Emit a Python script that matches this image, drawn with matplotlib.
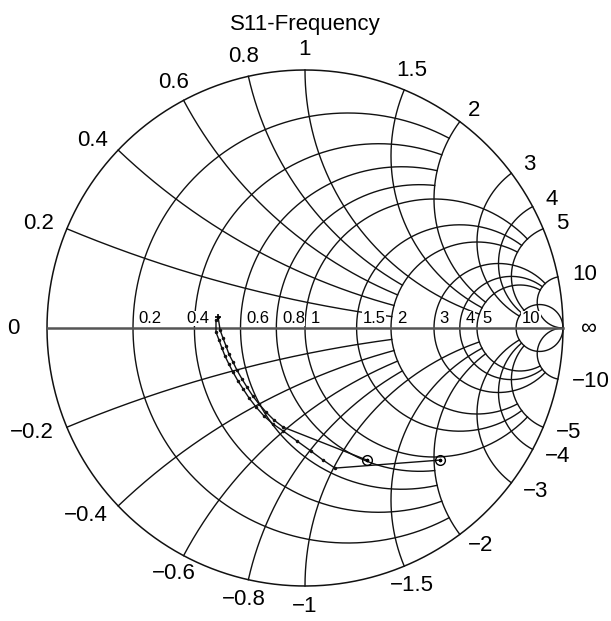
import numpy as np
import matplotlib.pyplot as plt

plt.rcParams['font.family'] = ['Liberation Sans', 'DejaVu Sans']

# grid circles: value and endpoint (like a 2-row "Values" matrix)
grid_vals = [0.2, 0.4, 0.6, 0.8, 1, 1.5, 2, 3, 4, 5, 10]
grid_ends = [2, 2, 2, 2, 5, 5, 5, 10, 10, 10, np.inf]

# S11 traces, reflection coefficient (real, imag)
s11a_re = [-0.337, -0.329, -0.318, -0.306, -0.295, -0.279, -0.264, -0.244,
           -0.225, -0.202, -0.178, -0.151, -0.120, -0.085, 0.240]
s11a_im = [0.043, -0.008, -0.039, -0.070, -0.101, -0.132, -0.163, -0.198,
           -0.229, -0.264, -0.295, -0.326, -0.357, -0.384, -0.512]
s11b_re = [-0.345, -0.345, -0.333, -0.322, -0.310, -0.295, -0.279, -0.260,
           -0.240, -0.217, -0.190, -0.159, -0.124, -0.085, -0.031, 0.023,
           0.070, 0.116, 0.523]
s11b_im = [0.031, -0.016, -0.047, -0.078, -0.109, -0.140, -0.171, -0.205,
           -0.236, -0.271, -0.306, -0.341, -0.372, -0.399, -0.438, -0.477,
           -0.512, -0.543, -0.512]


def gamma(z):
    return (z - 1) / (z + 1)


def lbl(v):
    return '%g' % v


fig = plt.figure(figsize=(6.11, 6.21), dpi=100)
ax = fig.add_axes([0, 0, 1, 1])
ax.set_xlim(-305 / 258, 306 / 258)
ax.set_ylim(-293 / 258, 328 / 258)
ax.axis('off')

gc = '#111111'
glw = 1.0

# outer circle
t = np.linspace(0, 2 * np.pi, 600)
ax.plot(np.cos(t), np.sin(t), color=gc, lw=1.1)

for v, e in zip(grid_vals, grid_ends):
    # resistance circle r = v for |x| <= e
    th = np.linspace(-np.arctan(e), np.arctan(e), 800)
    g = gamma(v + 1j * np.tan(th))
    ax.plot(g.real, g.imag, color=gc, lw=glw)
    # reactance arcs x = +-v for 0 <= r <= e
    th = np.linspace(0, np.arctan(e), 800)
    for s in (1, -1):
        g = gamma(np.tan(th) + 1j * s * v)
        ax.plot(g.real, g.imag, color=gc, lw=glw)

# real axis
ax.plot([-1, 1], [0, 0], color='#555555', lw=1.8)

# data
ax.plot(s11a_re, s11a_im, color='#111111', lw=1.0, marker='.', ms=3)
ax.plot(s11b_re, s11b_im, color='#111111', lw=1.0, marker='.', ms=3)
ax.plot(s11a_re[0], s11a_im[0], marker='+', color='k', ms=5, mew=1.2)
ax.plot([s11a_re[-1], s11b_re[-1]], [s11a_im[-1], s11b_im[-1]], ls='none',
        marker='o', ms=7, mfc='none', mec='k', mew=1.0)
ax.plot([s11a_re[-1], s11b_re[-1]], [s11a_im[-1], s11b_im[-1]], ls='none',
        marker='.', ms=3, color='k')

# labels on the real axis (0.4 sits left of the trace start)
for v in grid_vals:
    dx = -0.03 if v == 0.4 else 0.022
    ax.text(gamma(v) + dx, 0.008, lbl(v), fontsize=12, ha='left', va='bottom',
            bbox=dict(facecolor='white', edgecolor='none', pad=0.3), zorder=5)

# outer labels: centred near the top/bottom, flush outward at the sides
for v in grid_vals:
    a = np.pi - 2 * np.arctan(v)
    if np.cos(a) > 0.5:
        ha, rr = 'left', 1.055
    elif np.cos(a) < -0.5:
        ha, rr = 'right', 1.055
    else:
        ha, rr = 'center', 1.08
    for s, pre in ((1, ''), (-1, '\u2212')):
        ax.text(rr * np.cos(a), s * rr * np.sin(a), pre + lbl(v), fontsize=16,
                ha=ha, va='center')
ax.text(-1.13, 0, '0', fontsize=16, ha='center', va='center')
ax.text(1.066, 0, '\u221e', fontsize=16, ha='left', va='center')

ax.text(0, 1.175, 'S11-Frequency', fontsize=16, ha='center', va='center')

fig.savefig('out.png', dpi=100)
